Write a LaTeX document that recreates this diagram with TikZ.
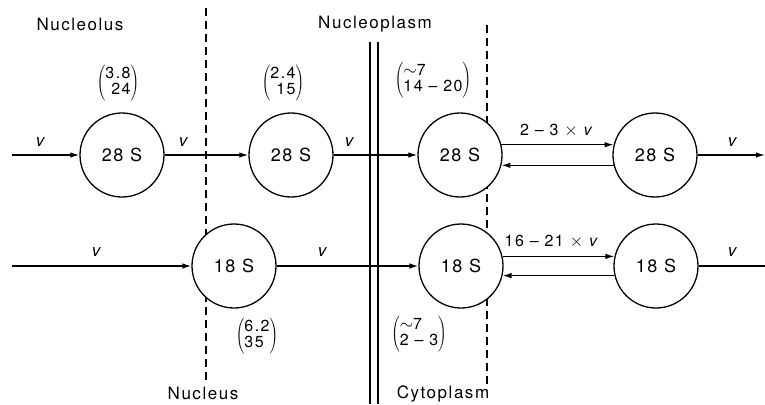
\documentclass[tikz,border=0pt]{standalone}
\usepackage{fontspec}
\setmainfont[LetterSpace=9]{TeX Gyre Heros}
\usetikzlibrary{arrows.meta, positioning}
\tikzset{
  flowline/.style  = {-{Latex[length=9pt,width=5.5pt]}, line width=1.3pt},
  plainline/.style = {line width=1.3pt},
  pool/.style      = {circle, draw, fill=white, line width=1.3pt,
                      minimum size=84pt, inner sep=0pt,
                      font=\fontsize{18}{21}\selectfont},
  border/.style    = {dash pattern=on 8pt off 5pt, line width=1.2pt},
  membrane/.style  = {line width=1.2pt},
  region/.style    = {font=\fontsize{17}{20}\selectfont},
  vlbl/.style      = {font=\fontsize{17}{20}\selectfont\itshape},
  rlbl/.style      = {font=\fontsize{16}{18}\selectfont},
}

\begin{document}
\begin{tikzpicture}[x=1pt,y=-1pt]
  \newcommand{\ratepair}[3]{%
    $\left(\mbox{\begin{tabular}{@{}#1@{}}#2\\[-2pt]#3\end{tabular}}\right)$}
  \useasboundingbox (0,0) rectangle (765,404);
  % compartment borders
  \draw[border] (206,8) -- (206,380);
  \draw[border] (487,25) -- (487,387);
  \draw[membrane] (370,42) -- (370,404);
  \draw[membrane] (378,42) -- (378,404);
  \node[region] (nucleolus) at (80,24) {Nucleolus};
  \node[region] (nucleoplasm) at (375,24) {Nucleoplasm};
  \node[region] (nucleus) at (203,393) {Nucleus};
  \node[region] (cytoplasm) at (443,394) {Cytoplasm};
  % 28 S pools
  \node[pool] (r28a) at (122,155) {28 S};
  \node[pool] (r28b) at (291,155) {28 S};
  \node[pool] (r28c) at (460,155) {28 S};
  \node[pool] (r28d) at (655,155) {28 S};
  \coordinate (in28) at (12,155);
  \coordinate (out28) at (765,155);
  \draw[flowline] (in28) -- (r28a);
  \draw[flowline] (r28a) -- (r28b);
  \draw[flowline] (r28b) -- (r28c);
  \draw[flowline] (r28c.14) -- (r28d.166);
  \draw[flowline] (r28d.194) -- (r28c.346);
  \draw[flowline] (r28d) -- (out28);
  \node[vlbl] at (40,142) {v};
  \node[vlbl] at (183,142) {v};
  \node[vlbl] at (349,142) {v};
  \node[vlbl] at (732,142) {v};
  \node[rlbl] (ex28) at (557,131) {2 – 3 $\times$ \textit{v}};
  \node[rlbl] (k28a) at (118,83) {\ratepair{r}{3.8}{24}};
  \node[rlbl] (k28b) at (283,83) {\ratepair{r}{2.4}{15}};
  \node[rlbl] (k28c) at (433,80) {\ratepair{l}{$\sim$7}{14 – 20}};
  % 18 S pools
  \node[pool] (r18a) at (234,266) {18 S};
  \node[pool] (r18c) at (461,266) {18 S};
  \node[pool] (r18d) at (656,266) {18 S};
  \coordinate (in18) at (12,266);
  \coordinate (out18) at (765,266);
  \draw[flowline] (in18) -- (r18a);
  \draw[flowline] (r18a) -- (r18c);
  \draw[flowline] (r18c.13) -- (r18d.167);
  \draw[flowline] (r18d.193) -- (r18c.347);
  \draw[plainline] (r18d) -- (out18);
  \node[vlbl] at (96,252) {v};
  \node[vlbl] at (322,252) {v};
  \node[vlbl] at (732,252) {v};
  \node[rlbl] (ex18) at (552,242) {16 – 21 $\times$ \textit{v}};
  \node[rlbl] (k18a) at (257,336) {\ratepair{l}{6.2}{35}};
  \node[rlbl] (k18c) at (419,334) {\ratepair{l}{$\sim$7}{2 – 3}};
\end{tikzpicture}
\end{document}
